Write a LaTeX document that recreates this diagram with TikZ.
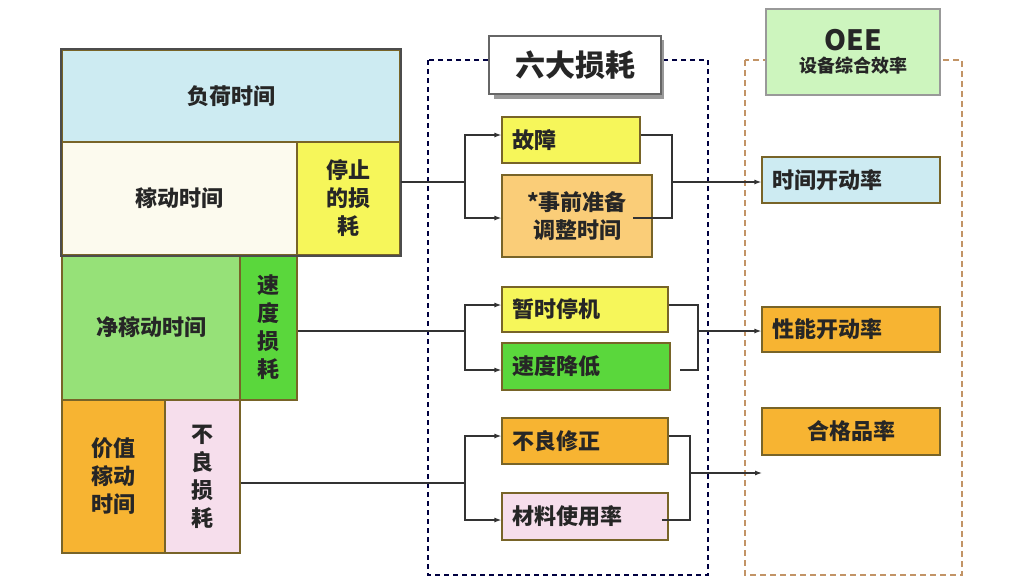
\documentclass[tikz,border=0pt]{standalone}
\usepackage{fontspec}
\newfontfamily\cjk{Noto Sans CJK SC}
\usetikzlibrary{positioning,arrows.meta}
\definecolor{cyanbox}{RGB}{205,235,242}
\definecolor{creambox}{RGB}{252,250,238}
\definecolor{yelbox}{RGB}{246,246,90}
\definecolor{lgreen}{RGB}{150,225,120}
\definecolor{gbox}{RGB}{90,215,60}
\definecolor{orbox}{RGB}{247,180,50}
\definecolor{lorbox}{RGB}{250,205,120}
\definecolor{pinkbox}{RGB}{246,222,236}
\definecolor{oeegreen}{RGB}{205,245,190}
\definecolor{edge}{RGB}{120,100,40}
\tikzset{every picture/.style={line width=0.75pt}}
\tikzset{
  box/.style={draw=edge, line width=1.2pt, inner sep=2pt, align=center,
    font=\cjk\bfseries\fontsize{22}{28}\selectfont, text=black!85},
  lbl/.style={box, draw=none, anchor=west, xshift=8pt},
  link/.style={draw=black!80, line width=1.2pt},
  tip/.style={-{Latex[length=7pt,width=5pt]}},
  frame/.style={draw=black!75!blue, line width=1.3pt, dash pattern={on 5pt off 4pt}}
}
\newcommand{\blk}[6]{% name, x1, y1, x2, y2, fill
  \node[box, fill=#6, minimum width=#4-#2, minimum height=#5-#3] (#1) at ({(#2+#4)/2},{(#3+#5)/2}) {};}

\begin{document}
\begin{tikzpicture}[x=1pt,y=1pt,yscale=-1]
\useasboundingbox (0,0) rectangle (1025,579);

%Dashed frames
\draw[frame] (428,60) rectangle (708,575);
\draw[frame, draw=black!40!orange!60, dash pattern={on 6pt off 4pt}] (745,60) rectangle (962,575);

%Titles
\fill[black!40] (494,40) rectangle (664,99);
\node[box, fill=white, draw=black!60, minimum width=172, minimum height=58,
  font=\cjk\bfseries\fontsize{30}{32}\selectfont] (six) at (575,65) {六大损耗};
\node[box, fill=oeegreen, draw=black!40, minimum width=174, minimum height=86,
  font=\cjk\bfseries\fontsize{18}{22}\selectfont] (oee) at (853,52)
  {{\fontsize{28}{30}\selectfont OEE}\\设备综合效率};

%Left block
\blk{load}{62}{50}{400}{142}{cyanbox}
\node[box, draw=none] at (load) {负荷时间};
\blk{run}{62}{142}{297}{255}{creambox}
\node[box, draw=none] at (run) {稼动时间};
\blk{stop}{297}{142}{400}{255}{yelbox}
\node[box, draw=none] at (stop) {停止\\的损\\耗};
\blk{net}{62}{255}{240}{400}{lgreen}
\node[box, draw=none] at (net) {净稼动时间};
\blk{speed}{240}{255}{297}{400}{gbox}
\node[box, draw=none] at (speed) {速\\度\\损\\耗};
\blk{value}{62}{400}{165}{553}{orbox}
\node[box, draw=none, align=left] at (value) {价值\\稼动\\时间};
\blk{defect}{165}{400}{240}{553}{pinkbox}
\node[box, draw=none] at (defect) {不\\良\\损\\耗};
\draw[black!70, line width=2pt] (load.north west) rectangle (stop.south east);

%Six losses
\blk{fail}{502}{117}{640}{163}{yelbox}
\node[lbl] at (fail.west) {故障};
\blk{setup}{502}{175}{652}{257}{lorbox}
\node[box, draw=none] at (setup) {*事前准备\\调整时间};
\blk{idle}{502}{287}{668}{332}{yelbox}
\node[lbl] at (idle.west) {暂时停机};
\blk{slow}{502}{343}{670}{390}{gbox}
\node[lbl] at (slow.west) {速度降低};
\blk{rework}{502}{418}{668}{464}{orbox}
\node[lbl] at (rework.west) {不良修正};
\blk{yield}{502}{493}{668}{540}{pinkbox}
\node[lbl] at (yield.west) {材料使用率};

%OEE rates
\blk{avail}{762}{157}{940}{203}{cyanbox}
\node[lbl] at (avail.west) {时间开动率};
\blk{perf}{762}{307}{940}{352}{orbox}
\node[lbl] at (perf.west) {性能开动率};
\blk{qual}{762}{408}{940}{455}{orbox}
\node[box, draw=none] at (qual) {合格品率};

%Branch points
\coordinate (s1) at (465,182);
\coordinate (j1) at (672,182);
\coordinate (s2) at (465,331);
\coordinate (j2) at (698,331);
\coordinate (s3) at (465,483);
\coordinate (j3) at (690,473);
\coordinate (end3) at (762,473);

%Connectors
\draw[link] (stop.east |- s1) -- (s1);
\draw[link, tip] (s1) |- (fail.west |- 0,135);
\draw[link, tip] (s1) |- (setup.west |- 0,218);
\draw[link] (fail.east |- 0,135) -| (j1);
\draw[link] (633,218) -| (j1);
\draw[link, tip] (j1) -- (avail.west |- j1);

\draw[link] (speed.east |- s2) -- (s2);
\draw[link, tip] (s2) |- (idle.west |- 0,305);
\draw[link, tip] (s2) |- (slow.west |- 0,370);
\draw[link] (idle.east |- 0,305) -| (j2);
\draw[link] (680,370) -| (j2);
\draw[link, tip] (j2) -- (perf.west |- j2);

\draw[link] (defect.east |- s3) -- (s3);
\draw[link, tip] (s3) |- (rework.west |- 0,436);
\draw[link, tip] (s3) |- (yield.west |- 0,520);
\draw[link] (rework.east |- 0,436) -| (j3);
\draw[link] (662,520) -| (j3);
\draw[link, tip] (j3) -- (end3);
\end{tikzpicture}
\end{document}
